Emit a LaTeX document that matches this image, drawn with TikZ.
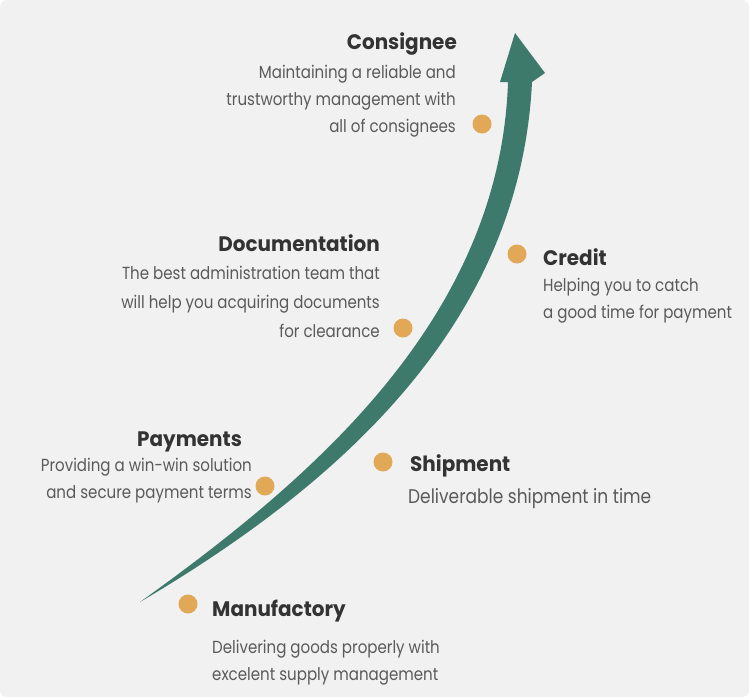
\documentclass[tikz,border=0pt]{standalone}
\usepackage{fontspec}
\setmainfont{Poppins}
\newfontfamily\bodyfont[FakeStretch=0.86]{Poppins}
\newfontfamily\headfont[FakeStretch=0.95]{Poppins}
\definecolor{bg}{HTML}{F1F1F1}
\definecolor{arrowgreen}{HTML}{3E7A6C}
\definecolor{dotorange}{HTML}{E1A957}
\definecolor{headgray}{HTML}{333333}
\definecolor{bodygray}{HTML}{5A5A5A}
\tikzset{
	title/.style={inner sep=0pt, text=headgray, font=\headfont\bfseries\fontsize{21}{25}\selectfont},
	body/.style={inner sep=0pt, text=bodygray, font=\bodyfont\fontsize{17.5}{27}\selectfont},
	dot/.style={circle, fill=dotorange, minimum size=19pt, inner sep=0pt},
}
\begin{document}
\begin{tikzpicture}[x=1pt,y=-1pt]
	\fill[white] (0,0) rectangle (749,697);
	\fill[bg, rounded corners=7pt] (0,0) rectangle (749,697);
	\fill[arrowgreen] (140,602) .. controls (330,490) and (520,330) .. (532,82)
		-- (545,73) -- (515,33) -- (500,82) -- (508,82)
		.. controls (500,320) and (310,480) .. (140,602) -- cycle;
	\foreach \name/\x/\y in {consigneedot/482/124, documentationdot/403/328, paymentsdot/265/486, shipmentdot/383/462, creditdot/517/254, manufactorydot/188/604}
		\node[dot] (\name) at (\x,\y) {};
	\node[title, anchor=base east] (consignee) at (457,49) {Consignee};
	\node[body, anchor=base east, align=right] (consigneetext) at (456,132) {Maintaining a reliable and\\trustworthy management with\\all of consignees};
	\node[title, anchor=base east] (documentation) at (380,251) {Documentation};
	\node[body, anchor=base east, align=right, font=\bodyfont\fontsize{17.5}{29}\selectfont] (documentationtext) at (380,337) {The best administration team that\\will help you acquiring documents\\for clearance};
	\node[title, anchor=base west] (payments) at (137,446) {Payments};
	\node[body, anchor=base east, align=right] (paymentstext) at (252,498) {Providing a win-win solution\\and secure payment terms};
	\node[title, anchor=base west] (shipment) at (410,471) {Shipment};
	\node[body, anchor=base west, font=\bodyfont\fontsize{19.8}{25}\selectfont] (shipmenttext) at (408,503) {Deliverable shipment in time};
	\node[title, anchor=base west] (credit) at (543,265) {Credit};
	\node[body, anchor=base west, align=left] (credittext) at (543,318) {Helping you to catch\\a good time for payment};
	\node[title, anchor=base west] (manufactory) at (212,616) {Manufactory};
	\node[body, anchor=base west, align=left] (manufactorytext) at (212,680) {Delivering goods properly with\\excelent supply management};
\end{tikzpicture}
\end{document}
